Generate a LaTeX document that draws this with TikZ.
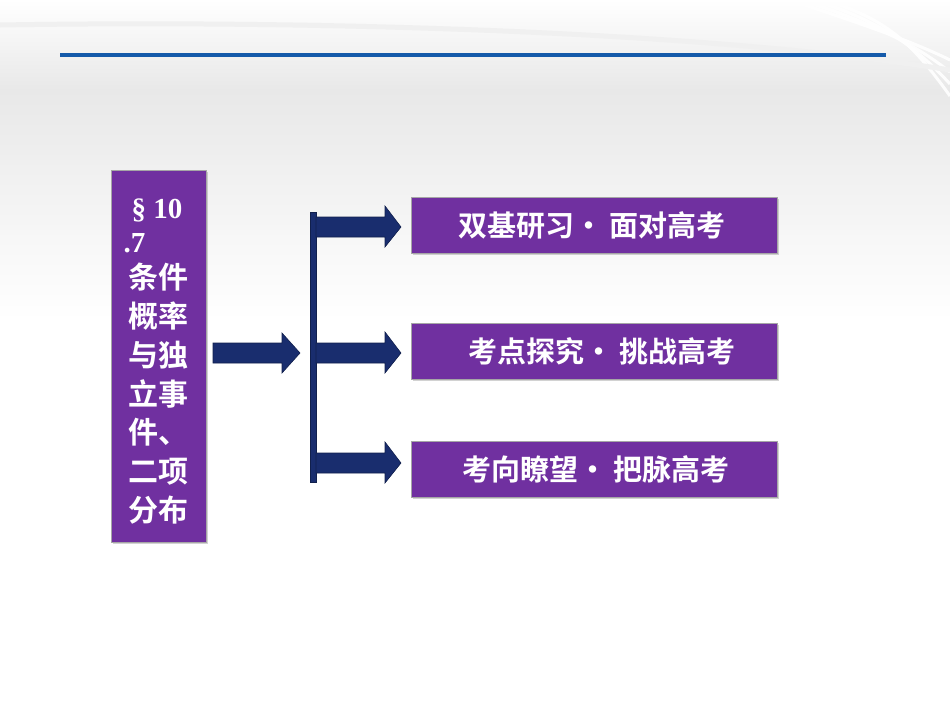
\documentclass[tikz,border=0pt]{standalone}
\usepackage{fontspec}
\setmainfont{Liberation Serif}
\newfontfamily\cjk{Noto Sans CJK SC}[BoldFont={Noto Sans CJK SC Bold}]
\usetikzlibrary{shadows}
\definecolor{purp}{RGB}{112,48,160}
\definecolor{navy}{RGB}{25,45,110}
\definecolor{lineblue}{RGB}{20,90,170}
\tikzset{
 box/.style={draw=gray!70,line width=1pt,fill=purp,drop shadow={shadow xshift=1.5pt,shadow yshift=-1.5pt,opacity=.35}},
 lbl/.style={text=white,font=\cjk\bfseries\fontsize{29}{30}\selectfont},
 arr/.style={fill=navy,draw=navy!70!black,line width=.6pt}
}
\begin{document}
\begin{tikzpicture}[x=1pt,y=-1pt]
\useasboundingbox (0,0) rectangle (950,713);
\shade[top color=white,bottom color=gray!18] (0,0) rectangle (950,90);
\shade[top color=gray!18,bottom color=white] (0,90) rectangle (950,320);
\fill[white] (0,320) rectangle (950,713);
\foreach \s in {0,12,24,36}{
 \draw[white,line width=3pt,opacity=.9] (790+\s,0) .. controls (850+\s,20) and (910,40) .. (950,60+\s);}
\draw[gray!12,line width=5pt] (0,25) .. controls (300,20) and (700,30) .. (950,70);
\draw[lineblue,line width=4pt] (60,55) -- (886,55);
% left box
\node[box,minimum width=95pt,minimum height=372pt,anchor=north west,inner sep=0pt] (L) at (111,170) {};
\node[text=white,font=\bfseries\fontsize{29}{30}\selectfont,anchor=west] (t1) at (128,210) {§ 10};
\node[text=white,font=\bfseries\fontsize{29}{30}\selectfont,anchor=west] (t2) at (120,243) {.7};
\node[text=white,align=center,anchor=north,inner sep=0pt,font=\cjk\bfseries\fontsize{30}{38.8}\selectfont] (t3) at (158,263) {条件\\概率\\与独\\立事\\件、\\二项\\分布};
% arrows
\filldraw[arr] (213,343) -- (282,343) -- (282,333) -- (300,353) -- (282,373) -- (282,363) -- (213,363) -- cycle;
\filldraw[arr] (310,212) rectangle (316,482);
\foreach \y in {227,353,463}{
 \filldraw[arr] (316,\y-10) -- (385,\y-10) -- (385,\y-21) -- (401,\y) -- (385,\y+20) -- (385,\y+10) -- (316,\y+10) -- cycle;}
% right boxes
\node[box,minimum width=366pt,minimum height=56pt,anchor=north west,inner sep=0pt] (b1) at (411,197) {};
\node[box,minimum width=366pt,minimum height=56pt,anchor=north west,inner sep=0pt] (b2) at (411,323) {};
\node[box,minimum width=366pt,minimum height=56pt,anchor=north west,inner sep=0pt] (b3) at (411,441) {};
\node[lbl] at (592,225) {双基研习•\ 面对高考};
\node[lbl] at (602,351) {考点探究•\ 挑战高考};
\node[lbl] at (596,469) {考向瞭望•\ 把脉高考};
\end{tikzpicture}
\end{document}
